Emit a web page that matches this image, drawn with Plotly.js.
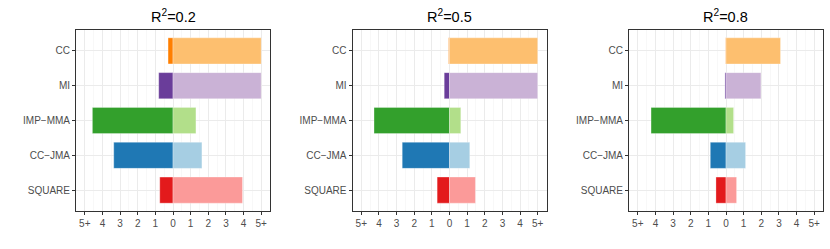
<!DOCTYPE html>
<html><head><meta charset="utf-8">
<script src="https://cdn.plot.ly/plotly-3.0.1.min.js"></script>
<style>html,body{margin:0;padding:0;background:#fff}#c{width:830px;height:249px}</style>
</head><body><div id="c"></div>
<script>
const categories = ["CC","MI","IMP\u2212MMA","CC\u2212JMA","SQUARE"];
const panelTitles = ["R<sup>2</sup>=0.2","R<sup>2</sup>=0.5","R<sup>2</sup>=0.8"];
const negR02 = [-0.28,-0.81,-4.57,-3.36,-0.75];
const posR02 = [5.0,5.0,1.30,1.64,3.94];
const negR05 = [-0.05,-0.30,-4.28,-2.68,-0.70];
const posR05 = [5.0,5.0,0.64,1.15,1.47];
const negR08 = [-0.02,-0.06,-4.25,-0.89,-0.57];
const posR08 = [3.09,1.98,0.43,1.11,0.60];
const darkColors = ["#FF7F00","#6A3D9A","#33A02C","#1F78B4","#E31A1C"];
const lightColors = ["#FDBF6F","#CAB2D6","#B2DF8A","#A6CEE3","#FB9A99"];
const tickVals = [-5,-4,-3,-2,-1,0,1,2,3,4,5];
const tickText = ["5+","4","3","2","1","0","1","2","3","4","5+"];

const negs = [negR02,negR05,negR08];
const poss = [posR02,posR05,posR08];
const xDom = [[76/830,270/830],[352.5/830,546.5/830],[629/830,823/830]];
const yDom = [1-211/249, 1-30/249];

const traces = [];
const layout = {
  width:830, height:249, margin:{l:0,r:0,t:0,b:0},
  paper_bgcolor:"#fff", plot_bgcolor:"#fff",
  barmode:"relative", bargap:0.25, showlegend:false,
  font:{family:"Liberation Sans, Arial, sans-serif", color:"#4D4D4D", size:10},
  annotations:[]
};
for (let i=0;i<3;i++){
  const s = i===0 ? "" : String(i+1);
  traces.push({type:"bar", orientation:"h", y:categories, x:negs[i], xaxis:"x"+s, yaxis:"y"+s,
    marker:{color:darkColors, line:{color:"rgba(255,255,255,0.5)", width:0.6}}, width:0.75, hoverinfo:"x+y"});
  traces.push({type:"bar", orientation:"h", y:categories, x:poss[i], xaxis:"x"+s, yaxis:"y"+s,
    marker:{color:lightColors, line:{color:"rgba(255,255,255,0.5)", width:0.6}}, width:0.75, hoverinfo:"x+y"});
  layout["xaxis"+s] = {domain:xDom[i], anchor:"y"+s, range:[-5.5,5.5], tickvals:tickVals, ticktext:tickText,
    showgrid:true, gridcolor:"#EBEBEB", gridwidth:1, zeroline:false,
    minor:{tickvals:[-5.5,-4.5,-3.5,-2.5,-1.5,-0.5,0.5,1.5,2.5,3.5,4.5], showgrid:true, gridcolor:"#F4F4F4", gridwidth:0.6, ticks:""},
    showline:true, mirror:true, linecolor:"#333333", linewidth:1,
    ticks:"outside", ticklen:3, tickcolor:"#333333", tickwidth:1,
    tickfont:{size:10, color:"#4D4D4D"}, fixedrange:true};
  layout["yaxis"+s] = {domain:yDom, anchor:"x"+s, type:"category", categoryarray:categories, categoryorder:"array",
    range:[4.6,-0.6], showgrid:true, gridcolor:"#EBEBEB", gridwidth:1, zeroline:false,
    showline:true, mirror:true, linecolor:"#333333", linewidth:1,
    ticks:"outside", ticklen:3, tickcolor:"#333333", tickwidth:1,
    tickfont:{size:10, color:"#4D4D4D"}, fixedrange:true};
  layout.annotations.push({text:panelTitles[i], xref:"paper", yref:"paper",
    x:(xDom[i][0]+xDom[i][1])/2, y:1-16/249, xanchor:"center", yanchor:"middle", showarrow:false,
    font:{size:14.5, color:"#000"}});
}
Plotly.newPlot("c", traces, layout, {displayModeBar:false, staticPlot:true});
</script></body></html>
